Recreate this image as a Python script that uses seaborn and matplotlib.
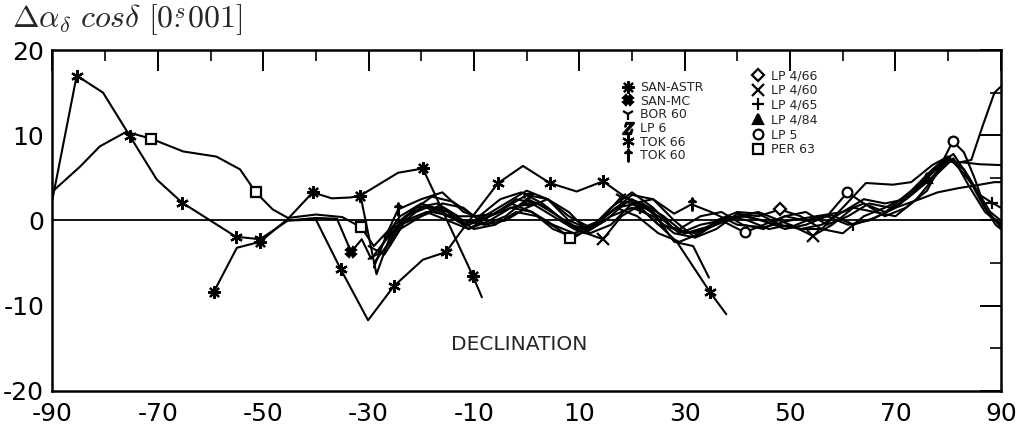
import matplotlib
matplotlib.use('Agg')
import matplotlib.pyplot as plt
from matplotlib.lines import Line2D
import seaborn as sns

# values (declination deg, offset in 0.001 s)
san_astr_x = [-59.4, -55, -50.6, -45.3, -40.6, -37, -33.5, -31.6, -24.4, -19.7, -10.2, -8.5]
san_astr_y = [-8.4, -3.2, -2.5, 0.2, 3.3, 2.6, 2.7, 2.9, 5.6, 6.1, -6.5, -9.0]
san_astr_mk = [0, 2, 4, 7, 9, 10]

san_mc_x = [-45.3, -40, -36, -33.3, -31.3, -29.5, -27, -23, -19, -15, -11, -7, -3, 1, 5, 9, 13, 17, 21, 25,
            29, 33, 37, 41, 45, 49, 53, 57, 61, 65, 70, 74.6, 78, 82, 86, 88.8, 90]
san_mc_y = [0.0, 0.3, 0.2, -3.7, -2.2, -4.5, -2.5, 0.5, 1.5, 0.5, -0.5, 0.5, 2.0, 1.0, -1.0, -2.0, -0.5, 1.5, 0.5, -1.5,
            -2.5, -1.5, 0.0, 0.5, 0.0, -1.0, -0.5, 0.5, -0.5, 0.0, 1.5, 2.5, 3.3, 3.8, 4.2, 4.5, 4.5]
san_mc_mk = [3]

bor_x = [-31.5, -28.5, -26, -22, -18, -14, -10, -6, -2, 2, 6, 10, 14, 18, 22, 26, 30, 34, 38, 42, 46, 50,
         54, 58, 62, 66, 70, 74, 78, 81, 84, 87, 90]
bor_y = [2.8, -6.3, -2.0, 1.0, 2.8, 2.2, 0.5, 0.8, 2.5, 2.0, 0.5, -1.0, 0.0, 2.8, 2.0, -0.5, -1.5, -0.8, 0.3, 0.5,
         -0.3, -0.8, 0.2, 0.6, -0.5, 0.3, 1.5, 3.5, 6.5, 7.8, 5.0, 1.5, -0.8]
bor_mk = [13, 24]

lp6_x = [-30, -27, -24, -20, -16, -12, -8, -4, 0, 4, 8, 12, 16, 20, 24, 28, 31.6, 34.6]
lp6_y = [-4.5, -3.5, -0.5, 1.5, 1.5, 0.0, -0.5, 0.5, 2.5, 1.5, -0.5, -1.0, 1.0, 2.5, 1.0, -2.5, -3.0, -6.7]
lp6_mk = [8]

tok66_x = [-90, -85.4, -80.4, -75.3, -70.2, -65.4, -55.2, -50.6, -45.3, -40, -35.3, -30.1, -25.2, -19.7,
           -15.3, -12.6, -5.4, -0.7, 4.4, 9.5, 14.5, 22, 28.5, 34.8, 37.9]
tok66_y = [2.5, 17.0, 15.0, 9.9, 4.8, 2.1, -1.9, -2.2, 0.0, 0.1, -5.7, -11.7, -7.7, -4.6,
           -3.7, -1.4, 4.4, 6.4, 4.4, 3.4, 4.6, 1.3, -2.5, -8.4, -11.0]
tok66_mk = [1, 3, 5, 6, 7, 10, 12, 14, 16, 18, 20, 23]

tok60_x = [-29, -26.5, -24.4, -20, -16, -12, -8, -4, 0, 4, 8, 12, 16, 20, 24, 28, 31.3, 35, 40, 45, 50,
           55, 60, 64, 68, 72, 76, 80, 83, 86, 90]
tok60_y = [-5.5, -1.5, 1.3, 2.5, 3.3, 1.0, 0.2, 1.5, 3.0, 2.5, 0.5, -0.8, 1.0, 3.0, 2.5, 0.8, 1.9, 1.0, -0.5, -0.8,
           0.0, 0.5, 1.0, 2.5, 2.0, 2.5, 4.5, 7.0, 6.8, 6.6, 6.5]
tok60_mk = [2, 16]

lp466_x = [-30, -27, -24, -20, -16, -12, -8, -4, 0, 4, 8, 12, 16, 20, 24, 28, 32, 36, 40, 44, 48.1, 52,
           56, 60, 64, 68, 72, 76, 80, 83, 86, 88, 90]
lp466_y = [-3.0, -4.0, -1.0, 0.5, 2.0, 1.5, -0.5, 0.0, 1.5, 2.5, 1.0, -1.5, -0.5, 2.0, 2.5, 0.0, -2.0, -1.0, 0.8,
           0.5, 1.3, 0.5, -1.0, -1.5, 0.5, 1.5, 2.8, 5.0, 7.2, 6.0, 2.5, 0.5, -0.3]
lp466_mk = [20]

lp460_x = [-29, -26, -23, -19, -15, -11, -7, -3, 1, 5, 9, 14.5, 18, 22, 26, 30, 34, 38, 42, 46, 50, 54.3,
           58, 62, 66, 70, 74, 78, 81, 84, 87, 90]
lp460_y = [-5.0, -2.5, 0.5, 1.8, 1.0, -1.0, 0.0, 1.5, 2.0, 0.5, -1.0, -2.2, 0.5, 2.0, 0.5, -1.5, -1.0, 0.5, 0.0,
           -1.0, -0.5, -1.8, -0.5, 1.5, 1.0, 0.5, 2.5, 5.5, 7.3, 4.0, 1.0, -0.5]
lp460_mk = [11, 21]

lp465_x = [-28, -25, -21, -17, -13, -9, -5, -1, 3, 7, 11, 15, 19, 21.5, 25, 29, 33, 37, 41, 45, 49, 53,
           57, 61, 65, 69, 73, 77, 80, 83, 86, 88.3, 90]
lp465_y = [-3.5, -0.5, 1.5, 2.0, 0.5, 0.5, 2.5, 3.3, 2.0, 0.0, -1.5, 0.0, 2.2, 1.5, -0.5, -1.0, 0.5, 1.0, -0.5,
           -1.0, 0.5, 1.0, -0.5, 0.5, 2.0, 1.5, 3.5, 6.0, 7.5, 5.5, 3.0, 2.1, 1.5]
lp465_mk = [13, 31]

lp484_x = [-27, -24, -20, -16, -12, -8, -4, 0, 4, 8, 12, 16, 20, 24, 28, 32, 36, 40, 44, 48, 52, 56,
           60, 64, 68, 72, 76, 79, 82, 84.4, 86.5, 88.8, 90]
lp484_y = [-2.0, 0.5, 2.0, 1.0, -0.5, 0.5, 2.0, 3.5, 2.5, 0.0, -1.0, 1.5, 3.3, 1.5, -1.0, -1.5, -0.5, 0.5, 1.0,
           0.0, -1.0, -0.5, 1.0, 2.0, 1.0, 2.5, 5.0, 7.0, 6.8, 7.1, 11.0, 15.0, 15.7]
lp484_mk = [26]

lp5_x = [-26, -23, -19, -15, -11, -7, -3, 1, 5, 9, 13, 17, 21, 25, 29, 33, 37, 41.4, 45, 49, 53, 57,
         60.9, 64, 68, 72, 76, 79, 80.9, 83, 85, 87, 89, 90]
lp5_y = [-3.0, 0.0, 1.0, 0.0, -1.0, 0.5, 1.5, 1.0, -0.5, -1.5, -0.5, 1.5, 2.0, 0.5, -1.5, -0.5, 0.0, -1.4, -0.5,
         0.5, 0.0, 0.5, 3.3, 2.0, 0.5, 1.5, 3.5, 7.0, 9.3, 8.0, 5.0, 1.5, -0.5, -1.0]
lp5_mk = [17, 22, 28]

per_x = [-90, -84.8, -81, -76, -71.3, -65.2, -58.9, -54.4, -51.4, -48.2, -45.3, -40, -35, -31.4, -29, -26,
         -22, -18, -14, -10, -6, -2, 2, 6, 8.2, 12, 16, 20, 24, 28, 32, 36, 40, 44, 48, 52, 56, 60, 64.4,
         69.5, 73, 77, 80, 83, 86, 88, 90]
per_y = [3.4, 6.3, 8.7, 10.4, 9.6, 8.1, 7.5, 6.0, 3.3, 1.3, 0.3, 0.7, 0.4, -0.8, -3.0, -1.0, 0.0, 1.0, 0.5,
         -1.0, -0.5, 1.0, 0.5, -1.0, -2.0, -1.0, 0.5, 1.5, 0.5, -1.5, -2.0, 0.0, 1.0, 0.8, -0.5, -1.0, -1.0,
         1.5, 4.4, 4.2, 4.5, 6.5, 7.5, 6.0, 3.0, 1.0, 0.0]
per_mk = [4, 8, 13, 24]

x_ticks = [-90, -70, -50, -30, -10, 10, 30, 50, 70, 90]
y_ticks = [-20, -10, 0, 10, 20]

# name, x, y, marker indices, marker, size, hollow
series = [
    ('SAN-ASTR', san_astr_x, san_astr_y, san_astr_mk, (8, 2, 0), 9, False),
    ('SAN-MC', san_mc_x, san_mc_y, san_mc_mk, 'X', 7, False),
    ('BOR 60', bor_x, bor_y, bor_mk, '1', 9, False),
    ('LP 6', lp6_x, lp6_y, lp6_mk, '$Z$', 8, False),
    ('TOK 66', tok66_x, tok66_y, tok66_mk, (6, 2, 0), 9, False),
    ('TOK 60', tok60_x, tok60_y, tok60_mk, r'$\uparrow$', 9, False),
    ('LP 4/66', lp466_x, lp466_y, lp466_mk, 'D', 6, True),
    ('LP 4/60', lp460_x, lp460_y, lp460_mk, 'x', 8, False),
    ('LP 4/65', lp465_x, lp465_y, lp465_mk, '+', 9, False),
    ('LP 4/84', lp484_x, lp484_y, lp484_mk, '^', 7, False),
    ('LP 5', lp5_x, lp5_y, lp5_mk, 'o', 7, True),
    ('PER 63', per_x, per_y, per_mk, 's', 7, True),
]

sns.set_theme(style='white')
plt.rcParams['font.family'] = ['DejaVu Sans']
plt.rcParams['mathtext.fontset'] = 'cm'
plt.rcParams['axes.unicode_minus'] = False

fig = plt.figure(figsize=(10.23, 4.26), dpi=100)
ax = fig.add_axes([0.0513, 0.0822, 0.927, 0.8004])

ax.axhline(0, color='black', lw=1.3, zorder=1)

handles = []
for name, xs, ys, mk, m, ms, hollow in series:
    fc = 'white' if hollow else 'black'
    sns.lineplot(x=xs, y=ys, ax=ax, color='black', lw=1.5, estimator=None, sort=False,
                 marker=m, markevery=mk, ms=ms, mew=1.6, mfc=fc, mec='black', legend=False)
    handles.append(Line2D([], [], ls='None', color='black', marker=m, ms=ms, mew=1.6,
                          mfc=fc, mec='black', label=name))

ax.set_xlim(-90, 90)
ax.set_ylim(-20, 20)
ax.set_xticks(x_ticks)
ax.set_xticklabels([str(v) for v in x_ticks])
ax.set_xticks(range(-80, 90, 20), minor=True)
ax.set_yticks(y_ticks)
ax.set_yticklabels([str(v) for v in y_ticks])
ax.set_yticks([-15, -5, 5, 15], minor=True)
ax.tick_params(which='major', direction='in', length=15, width=1.4, top=True, right=True,
               labelsize=18, colors='black')
ax.tick_params(axis='y', which='major', pad=6)
ax.tick_params(axis='x', which='major', pad=8)
ax.tick_params(which='minor', direction='in', length=8, width=1.4, top=True, right=True)
for sp in ax.spines.values():
    sp.set_visible(True)
    sp.set_color('black')
    sp.set_linewidth(1.8)
ax.grid(False)

leg1 = ax.legend(handles=handles[:6], loc='upper left', bbox_to_anchor=(0.600, 0.909),
                 frameon=False, fontsize=9, handlelength=1.0, handletextpad=0.5,
                 labelspacing=0.05, borderpad=0, borderaxespad=0)
ax.add_artist(leg1)
ax.legend(handles=handles[6:], loc='upper left', bbox_to_anchor=(0.7375, 0.944),
          frameon=False, fontsize=9, handlelength=1.0, handletextpad=0.5,
          labelspacing=0.15, borderpad=0, borderaxespad=0)

ax.text(-1.5, -14.5, 'DECLINATION', ha='center', va='center', fontsize=14.5)
fig.text(0.012, 0.955, r'$\Delta\alpha_\delta\ cos\delta\ [0\overset{s}{.}001]$',
         ha='left', va='center', fontsize=23)

plt.savefig('out.png', dpi=100)
